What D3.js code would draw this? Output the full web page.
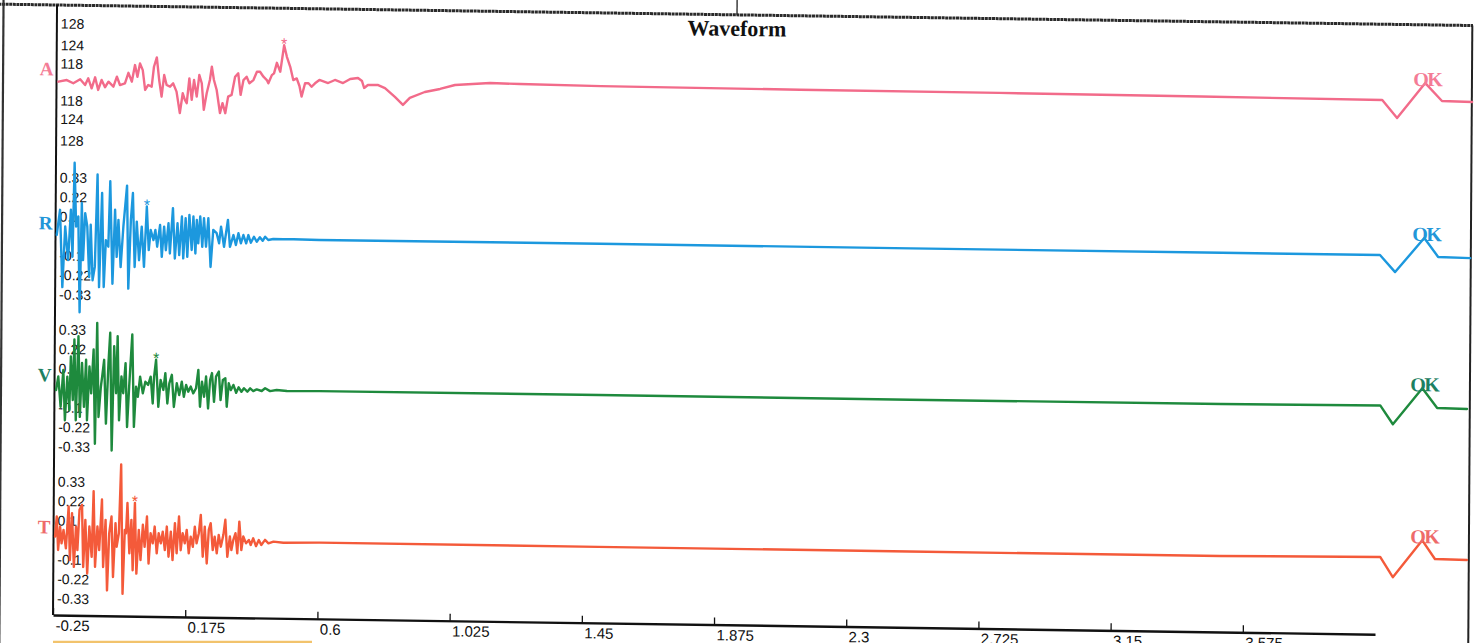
<!DOCTYPE html>
<html><head><meta charset="utf-8">
<script src="https://cdn.jsdelivr.net/npm/d3@7"></script>
<style>html,body{margin:0;padding:0;background:#fff;overflow:hidden}</style>
</head><body><svg id="c" width="1477" height="643"></svg>
<script>
// ---------- data ----------
const channelNames = ["A","R","V","T"];
const okLabel = "OK";
const titleText = "Waveform";
const xTicks = [-0.25,0.175,0.6,1.025,1.45,1.875,2.3,2.725,3.15,3.575];
const xTickLabels = ["-0.25","0.175","0.6","1.025","1.45","1.875","2.3","2.725","3.15","3.575"];
const aTickDb = [118,124,128];                  // A channel axis in dB (linear pressure scale)
const vTickValues = [-0.33,-0.22,-0.11,0.11,0.22,0.33];
const vTickLabels = ["-0.33","-0.22","-0.1","0.1","0.22","0.33"];
const starTimes = [0.481,0.043,0.076,0.011];     // peak markers per channel
const okTime = 4.150;

// A: air pressure (Pa) vs time (s)
const seriesA = [[-0.244,0.3],[-0.217,1.8],[-0.196,-0.9],[-0.174,2.6],[-0.158,-2.2],[-0.148,3.6],[-0.137,-5.0],[-0.126,4.5],[-0.116,-6.3],[-0.105,2.3],[-0.094,-3.9],[-0.083,0.9],[-0.067,-3.3],[-0.056,5.3],[-0.046,-1.8],[-0.030,-0.3],[-0.019,8.8],[-0.008,1.2],[0.002,15.5],[0.010,5.5],[0.018,17.0],[0.027,11.3],[0.035,-5.7],[0.045,-1.4],[0.056,-2.8],[0.063,14.3],[0.072,22.4],[0.080,3.0],[0.088,-11.3],[0.096,7.3],[0.104,-1.2],[0.115,-2.6],[0.125,0.3],[0.136,-6.8],[0.147,-25.2],[0.156,-8.1],[0.163,-13.8],[0.169,-16.6],[0.177,4.8],[0.185,-13.7],[0.192,3.4],[0.201,-10.8],[0.209,7.8],[0.217,0.7],[0.224,-22.1],[0.233,-7.8],[0.243,3.6],[0.249,15.0],[0.256,3.7],[0.265,-4.9],[0.276,-24.7],[0.284,-16.1],[0.293,-24.7],[0.302,-10.4],[0.313,-8.9],[0.324,6.7],[0.334,9.7],[0.342,-8.8],[0.351,4.0],[0.361,6.9],[0.370,1.3],[0.383,4.1],[0.394,11.3],[0.404,11.3],[0.415,7.1],[0.426,4.3],[0.431,1.5],[0.442,8.6],[0.449,10.1],[0.458,19.2],[0.469,11.6],[0.481,34.4],[0.490,24.5],[0.501,16.0],[0.511,4.6],[0.522,6.1],[0.531,-0.4],[0.538,-9.5],[0.549,2.0],[0.560,2.1],[0.570,-0.9],[0.581,2.1],[0.595,5.0],[0.623,2.5],[0.645,5.2],[0.671,2.7],[0.694,6.2],[0.719,7.2],[0.732,4.6],[0.739,-1.3],[0.751,1.3],[0.784,1.4],[0.806,-1.1],[0.838,-8.6],[0.864,-15.4],[0.886,-9.3],[0.934,-4.0],[0.983,-1.2],[1.031,2.4],[1.144,4.5],[1.240,4.0],[1.5,3.2],[2.14,2.6],[2.78,2.4],[3.43,1.8],[4.012,1.0],[4.060,-14.2],[4.150,16.1],[4.204,0.9],[4.301,0.4]];

// R, V, T: particle velocity vs time (s)
const seriesR = [[-0.246,0.006],[-0.236,0.148],[-0.227,-0.288],[-0.219,0.054],[-0.209,-0.135],[-0.201,0.149],[-0.195,-0.116],[-0.190,0.415],[-0.184,0.055],[-0.177,0.112],[-0.171,-0.428],[-0.166,0.188],[-0.161,-0.134],[-0.155,0.131],[-0.148,0.056],[-0.141,-0.229],[-0.137,0.066],[-0.130,-0.247],[-0.123,-0.171],[-0.116,0.350],[-0.109,-0.285],[-0.101,0.247],[-0.094,-0.284],[-0.088,-0.019],[-0.080,-0.056],[-0.075,0.313],[-0.066,-0.265],[-0.059,0.153],[-0.053,-0.113],[-0.048,0.096],[-0.040,-0.170],[-0.032,0.059],[-0.021,0.290],[-0.015,-0.291],[-0.008,0.097],[-0.002,0.249],[0.005,-0.168],[0.011,0.088],[0.019,-0.130],[0.027,0.060],[0.035,-0.167],[0.043,0.174],[0.050,-0.072],[0.056,0.042],[0.065,-0.015],[0.071,0.042],[0.077,-0.052],[0.086,0.071],[0.092,-0.109],[0.099,0.062],[0.105,-0.071],[0.113,0.081],[0.118,-0.089],[0.127,0.167],[0.134,-0.117],[0.142,0.082],[0.148,-0.098],[0.156,0.120],[0.161,-0.116],[0.168,0.111],[0.174,-0.107],[0.180,0.130],[0.188,-0.068],[0.193,0.121],[0.200,-0.087],[0.204,0.102],[0.209,-0.030],[0.215,0.122],[0.222,-0.049],[0.227,0.113],[0.234,-0.048],[0.241,0.113],[0.249,-0.162],[0.257,0.047],[0.268,0.029],[0.276,-0.028],[0.282,0.066],[0.292,-0.047],[0.304,0.105],[0.311,-0.047],[0.322,0.020],[0.330,-0.036],[0.338,0.031],[0.346,-0.026],[0.354,0.021],[0.363,-0.026],[0.370,0.021],[0.378,-0.022],[0.388,0.012],[0.397,-0.016],[0.407,0.010],[0.416,-0.010],[0.424,0.013],[0.434,-0.005],[0.450,0.001],[0.482,0.0],[0.515,0.001],[0.598,-0.001],[1.5,0.001],[2.5,0.0],[3.5,0.001],[4.008,0.001],[4.057,-0.094],[4.150,0.101],[4.195,-0.005],[4.298,-0.009]];

const seriesV = [[-0.245,-0.011],[-0.238,0.065],[-0.230,-0.106],[-0.222,0.103],[-0.216,-0.181],[-0.209,0.065],[-0.202,-0.124],[-0.198,0.179],[-0.191,-0.067],[-0.187,0.275],[-0.181,-0.180],[-0.174,0.294],[-0.168,-0.161],[-0.162,0.143],[-0.155,-0.104],[-0.149,0.162],[-0.145,-0.179],[-0.138,0.124],[-0.132,-0.027],[-0.125,0.220],[-0.119,-0.311],[-0.114,0.371],[-0.108,-0.160],[-0.101,0.011],[-0.097,0.068],[-0.091,0.163],[-0.084,-0.197],[-0.077,0.145],[-0.072,0.316],[-0.065,-0.348],[-0.059,0.240],[-0.052,-0.025],[-0.048,0.297],[-0.042,-0.177],[-0.035,0.070],[-0.029,-0.024],[-0.022,0.146],[-0.016,-0.214],[-0.010,0.014],[-0.001,0.308],[0.006,-0.213],[0.012,0.014],[0.018,-0.043],[0.025,0.071],[0.034,-0.023],[0.042,0.043],[0.051,0.025],[0.059,0.072],[0.066,-0.079],[0.070,0.072],[0.076,0.168],[0.084,-0.098],[0.091,0.054],[0.100,-0.002],[0.106,0.093],[0.113,-0.078],[0.119,0.036],[0.127,0.084],[0.134,-0.097],[0.143,0.037],[0.151,-0.030],[0.159,0.046],[0.166,-0.039],[0.173,0.028],[0.180,-0.010],[0.188,0.019],[0.196,-0.019],[0.205,0.010],[0.212,0.114],[0.218,-0.094],[0.224,0.048],[0.231,-0.037],[0.237,0.077],[0.244,-0.103],[0.250,0.058],[0.256,0.097],[0.263,-0.065],[0.269,0.077],[0.278,0.106],[0.284,-0.055],[0.291,0.059],[0.299,0.069],[0.304,-0.092],[0.310,0.041],[0.317,0.003],[0.325,0.032],[0.334,-0.012],[0.342,0.019],[0.351,-0.006],[0.359,0.014],[0.370,-0.005],[0.379,0.014],[0.389,-0.001],[0.400,0.009],[0.416,0.0],[0.427,0.016],[0.443,0.0],[0.464,0.007],[0.497,0.002],[0.601,0.004],[1.5,0.005],[2.5,0.004],[3.5,0.005],[4.012,0.010],[4.053,-0.095],[4.147,0.110],[4.195,0.0],[4.291,-0.003]];

const seriesT = [[-0.245,0.019],[-0.240,0.133],[-0.235,-0.056],[-0.229,0.076],[-0.224,-0.018],[-0.218,0.058],[-0.210,-0.046],[-0.202,0.191],[-0.197,-0.112],[-0.191,0.153],[-0.184,-0.150],[-0.178,0.077],[-0.173,-0.055],[-0.167,0.173],[-0.159,0.201],[-0.154,-0.150],[-0.148,0.116],[-0.141,-0.187],[-0.135,0.079],[-0.127,-0.092],[-0.122,0.278],[-0.116,-0.148],[-0.109,0.080],[-0.103,-0.053],[-0.095,0.232],[-0.090,-0.148],[-0.083,0.118],[-0.077,-0.280],[-0.071,0.043],[-0.064,0.137],[-0.058,-0.204],[-0.051,0.100],[-0.047,-0.033],[-0.040,0.043],[-0.034,0.432],[-0.027,-0.298],[-0.021,0.063],[-0.017,0.044],[-0.013,0.215],[-0.006,-0.069],[0.000,0.120],[0.005,-0.164],[0.011,0.216],[0.017,-0.183],[0.024,0.064],[0.030,-0.106],[0.037,0.093],[0.043,-0.031],[0.050,0.140],[0.056,-0.125],[0.062,0.046],[0.069,-0.011],[0.075,0.084],[0.082,-0.067],[0.088,0.047],[0.095,-0.010],[0.101,0.056],[0.108,-0.048],[0.114,0.085],[0.120,-0.085],[0.127,0.057],[0.133,-0.104],[0.140,0.105],[0.146,-0.065],[0.153,0.143],[0.159,-0.047],[0.165,0.049],[0.172,-0.008],[0.178,0.068],[0.185,-0.064],[0.191,0.030],[0.198,-0.027],[0.204,0.087],[0.210,-0.007],[0.217,0.050],[0.223,0.154],[0.230,-0.082],[0.236,0.088],[0.243,-0.120],[0.249,0.070],[0.255,0.108],[0.262,-0.044],[0.268,0.032],[0.275,-0.062],[0.281,0.042],[0.288,-0.024],[0.296,0.043],[0.302,0.128],[0.309,-0.081],[0.317,0.034],[0.322,-0.042],[0.328,0.015],[0.335,0.053],[0.341,-0.060],[0.347,0.119],[0.354,-0.042],[0.360,0.035],[0.369,-0.003],[0.378,0.016],[0.384,-0.012],[0.392,0.026],[0.401,-0.018],[0.410,0.017],[0.418,-0.011],[0.430,0.018],[0.441,-0.001],[0.457,0.009],[0.489,0.003],[0.605,0.007],[1.5,0.006],[2.5,0.005],[3.5,0.005],[4.015,0.013],[4.056,-0.100],[4.150,0.110],[4.191,0.006],[4.294,0.003]];

// ---------- styles / layout ----------
const W = 1477, H = 643;
const SHEAR_Y = 0.0145, SHEAR_X = -0.0066;     // scan skew
const axisX = 53, axisY = 615, axisEndX = 1375;
const centers = [82, 236, 388, 540];
const halfSpan = 58.5;
const lineColors = ["#f26b8a","#1c98de","#1e8a3d","#f45a3a"];
const labelColors = ["#f47c96","#2296d8","#1d8062","#ee6a6a"];
const serif = "'Liberation Serif','Times New Roman',serif";
const sans = "'Liberation Sans',Arial,sans-serif";
const dbToPa = db => 20e-6 * Math.pow(10, db/20);

const svg = d3.select("#c");
svg.append("rect").attr("width",W).attr("height",H).attr("fill","#fff");
const g = svg.append("g")
  .attr("transform",`matrix(1,${SHEAR_Y},${SHEAR_X},1,${-SHEAR_X*axisY},${-SHEAR_Y*axisX})`);

// frame
g.append("line").attr("x1",-20).attr("x2",1469).attr("y1",5).attr("y2",5)
  .attr("stroke","#2a2a2a").attr("stroke-width",3).attr("stroke-dasharray","3,0.6");
g.append("line").attr("x1",733).attr("x2",733).attr("y1",-30).attr("y2",5)
  .attr("stroke","#222").attr("stroke-width",1.3);
g.append("line").attr("x1",1468.3).attr("x2",1468.3).attr("y1",5).attr("y2",700)
  .attr("stroke","#222").attr("stroke-width",2);
g.append("line").attr("x1",-0.5).attr("x2",-0.5).attr("y1",-30).attr("y2",700)
  .attr("stroke","#333").attr("stroke-width",2.2);
g.append("line").attr("x1",axisX).attr("x2",axisX).attr("y1",5).attr("y2",axisY)
  .attr("stroke","#111").attr("stroke-width",2);

// title
g.append("text").attr("x",733).attr("y",26).attr("text-anchor","middle")
  .attr("font-family",serif).attr("font-weight","bold").attr("font-size",22)
  .attr("fill","#111").text(titleText);

// x scale + axis
const x = d3.scaleLinear().domain([-0.25, 4.0]).range([axisX, axisEndX]);
const xAxis = g.append("g").attr("transform",`translate(0,${axisY})`)
  .call(d3.axisBottom(x).tickValues(xTicks).tickFormat((d,i)=>xTickLabels[i])
        .tickSizeInner(-7).tickSizeOuter(0).tickPadding(5));
xAxis.select(".domain").attr("stroke","#111").attr("stroke-width",2.4);
xAxis.selectAll(".tick line").attr("stroke","#111").attr("stroke-width",1.3);
xAxis.selectAll(".tick text").attr("text-anchor","start").attr("dx",2)
  .attr("font-family",sans).attr("font-size",15).attr("fill","#111");

const allSeries = [seriesA, seriesR, seriesV, seriesT];

channelNames.forEach((name, i) => {
  const c = centers[i];
  let y, tv, tl;
  if (i === 0) {
    const m = dbToPa(128);
    y = d3.scaleLinear().domain([-m, m]).range([c + halfSpan, c - halfSpan]);
    tv = aTickDb.slice().reverse().map(d => -dbToPa(d)).concat(aTickDb.map(dbToPa));
    tl = aTickDb.slice().reverse().map(String).concat(aTickDb.map(String));
  } else {
    y = d3.scaleLinear().domain([-0.33, 0.33]).range([c + halfSpan, c - halfSpan]);
    tv = vTickValues; tl = vTickLabels;
  }
  // y tick labels
  const ya = g.append("g").attr("transform",`translate(${axisX},0)`)
    .call(d3.axisRight(y).tickValues(tv).tickFormat((d,k)=>tl[k]).tickSize(0).tickPadding(4));
  ya.select(".domain").remove();
  ya.selectAll(".tick text").attr("font-family",sans).attr("font-size",14).attr("fill","#111");

  // channel label
  g.append("text").attr("x",50).attr("y",c - 6.5).attr("text-anchor","end")
    .attr("font-family",serif).attr("font-weight","bold").attr("font-size",19)
    .attr("fill",labelColors[i]).text(name);

  // trace
  const data = allSeries[i];
  g.append("path").datum(data)
    .attr("d", d3.line().x(d=>x(d[0])).y(d=>y(d[1])))
    .attr("fill","none").attr("stroke",lineColors[i]).attr("stroke-width",2.4)
    .attr("stroke-linejoin","round").attr("stroke-linecap","round");

  // peak marker
  const sp = data.reduce((a,b)=>Math.abs(b[0]-starTimes[i])<Math.abs(a[0]-starTimes[i])?b:a);
  g.append("text").attr("x",x(sp[0])).attr("y",y(sp[1])+4).attr("text-anchor","middle")
    .attr("font-family",sans).attr("font-size",16).attr("fill",lineColors[i]).text("*");

  // OK label
  const op = data.reduce((a,b)=>Math.abs(b[0]-okTime)<Math.abs(a[0]-okTime)?b:a);
  g.append("text").attr("x",x(op[0])+2).attr("y",y(op[1])+3).attr("text-anchor","middle")
    .attr("font-family",serif).attr("font-weight","bold").attr("font-size",20)
    .attr("letter-spacing",-1.5).attr("fill",labelColors[i]).text(okLabel);
});

// scan edge strip at bottom
svg.append("line").attr("x1",53).attr("x2",312).attr("y1",642).attr("y2",642)
  .attr("stroke","#f2c36c").attr("stroke-width",2.5);
</script></body></html>
